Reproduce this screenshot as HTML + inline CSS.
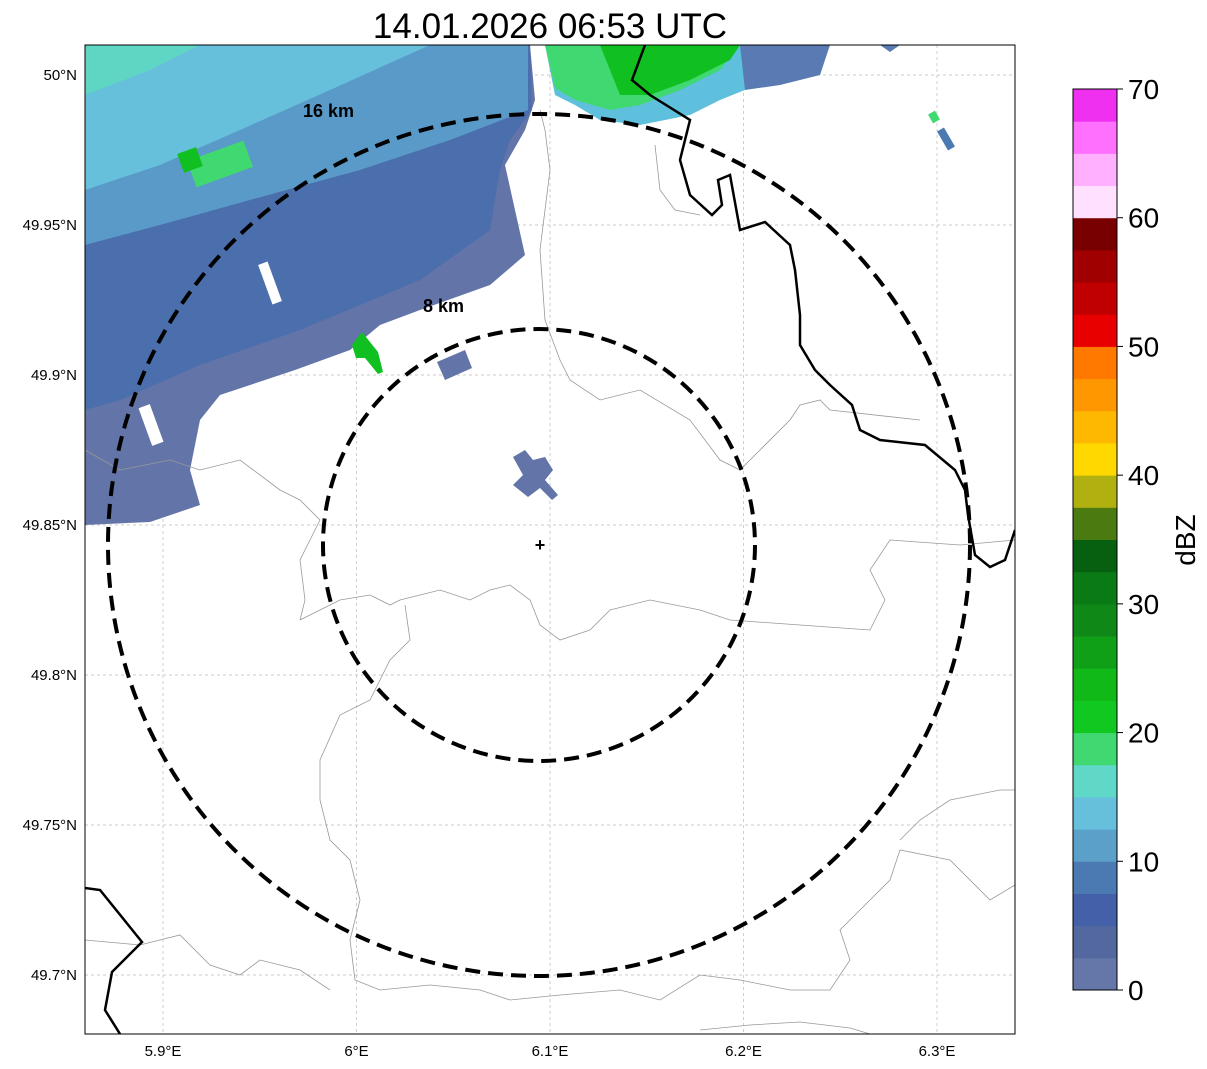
<!DOCTYPE html>
<html><head><meta charset="utf-8"><style>
html,body{margin:0;padding:0;background:#fff;}
svg{display:block;font-family:"Liberation Sans","DejaVu Sans",sans-serif;}
</style></head><body>
<svg width="1207" height="1069" viewBox="0 0 1207 1069">
<text x="550" y="38" font-size="35" text-anchor="middle">14.01.2026 06:53 UTC</text>
<defs><clipPath id="mapclip"><rect x="85" y="45" width="930" height="989"/></clipPath></defs>
<g clip-path="url(#mapclip)">
<rect x="85" y="45" width="930" height="989" fill="#fff"/>
<g id="grid"></g>
<g>
<polygon fill="#6375a8" points="85,45 530,45 535,100 525,130 505,165 525,255 490,285 420,310 380,325 350,350 295,370 220,395 200,420 190,470 200,505 150,522 85,525"/>
<polygon fill="#4b6eac" points="85,45 530,45 532,110 510,140 500,170 490,230 420,280 300,330 200,365 120,400 85,410"/>
<polygon fill="#5a9ac8" points="85,45 528,45 528,110 450,140 360,170 250,200 160,225 85,245"/>
<polygon fill="#66c0dc" points="85,45 430,45 330,90 240,130 160,165 85,190"/>
<polygon fill="#5fd6c4" points="85,45 200,45 150,70 85,95"/>
<rect x="190" y="150" width="60" height="28" fill="#40d870" transform="rotate(-20 220 164)"/>
<rect x="180" y="150" width="20" height="20" fill="#10c020" transform="rotate(-20 190 160)"/>
<polygon fill="#10c020" points="352,345 362,332 378,352 383,372 378,374 365,358 356,358"/>
<polygon fill="#6375a8" points="437,362 465,350 472,368 445,380"/>
<polygon fill="#6375a8" points="513,457 525,450 533,460 545,457 553,470 545,480 558,495 552,500 540,488 528,497 513,485 523,475"/>
<polygon fill="#5ec0dc" points="545,45 830,45 815,70 770,80 720,100 690,115 640,125 600,120 575,105 555,95"/>
<polygon fill="#40d870" points="545,45 740,45 720,70 680,90 640,105 610,110 575,100 555,88"/>
<polygon fill="#10c020" points="600,45 740,45 730,60 690,80 650,95 620,95"/>
<polygon fill="#5a7ab4" points="740,45 830,45 820,75 780,85 745,90"/>
<polygon fill="#5a7ab4" points="880,45 900,45 890,52"/>
<rect x="930" y="112" width="8" height="10" fill="#40d870" transform="rotate(-30 934 117)"/>
<rect x="942" y="128" width="8" height="22" fill="#4b7ab2" transform="rotate(-30 946 139)"/>
<rect x="265" y="262" width="10" height="42" fill="#fff" transform="rotate(-20 270 283)"/>
<rect x="200" y="480" width="10" height="40" fill="#fff" transform="rotate(-20 205 500)"/>
<rect x="145" y="405" width="12" height="40" fill="#fff" transform="rotate(-20 151 425)"/>
</g>
<g fill="none" stroke="#999" stroke-width="0.8">
<polyline points="540,110 545,130 550,170 540,250 545,320 560,360 570,380 600,400 640,390 690,420 720,460 740,470 760,450 790,420 800,405 820,400 830,410 920,420"/>
<polyline points="655,145 660,190 675,210 700,215"/>
<polyline points="85,450 120,470 170,460 200,470 240,460 280,490 300,500 320,520 300,560 305,600 300,620"/>
<polyline points="300,620 340,600 370,595 390,605 400,600 440,590 470,600 490,590 510,585 530,600 540,625 560,640 590,630 610,610 650,600 700,610 730,620 800,625 870,630 885,600 870,570 890,540 960,545 1015,540"/>
<polyline points="405,605 410,640 390,660 370,700 340,715 320,760 320,800 330,840 350,860 360,900 350,940 355,980 380,990 430,985 480,990 510,1000 560,995 620,990 660,1000 700,975 740,980 790,990 830,990 850,960 840,930 870,900 890,880 900,850 950,860 990,900 1015,885"/>
<polyline points="85,940 140,945 180,935 210,965 240,975 260,960 300,970 330,990"/>
<polyline points="700,1030 750,1025 800,1022 850,1028 870,1034"/>
<polyline points="900,840 920,820 950,800 1000,790 1015,790"/>
</g>
<g fill="none" stroke="#000" stroke-width="2.5">
<polyline points="645,45 632,80 650,95 690,120 680,160 690,195 712,215 722,205 718,180 730,175 740,230 765,222 790,245 795,270 800,315 800,345 815,370 830,385 852,405 860,430 880,440 925,445 955,470 965,490 968,515 975,555 990,567 1005,560 1015,530"/>
<polyline points="85,888 100,890 142,942 112,972 105,1010 120,1034"/>
</g>
<g fill="none" stroke="#000" stroke-width="4" stroke-dasharray="15,8">
<circle cx="539" cy="545" r="216"/>
<circle cx="539" cy="545" r="431"/>
</g>
<text x="540" y="551" font-size="18" font-weight="bold" text-anchor="middle">+</text>
<text x="303" y="117" font-size="18" font-weight="bold">16 km</text>
<text x="423" y="312" font-size="18" font-weight="bold">8 km</text>
</g>
<rect x="85" y="45" width="930" height="989" fill="none" stroke="#000" stroke-width="1"/>
<g id="axes" font-size="15"></g>
<g id="cbar"></g>
<text x="1195" y="540" font-size="28" text-anchor="middle" transform="rotate(-90 1195 540)">dBZ</text>
</svg>
<script>
const lonTicks=[5.9,6.0,6.1,6.2,6.3];
const lonLabels=["5.9°E","6°E","6.1°E","6.2°E","6.3°E"];
const latTicks=[50.0,49.95,49.9,49.85,49.8,49.75,49.7];
const latLabels=["50°N","49.95°N","49.9°N","49.85°N","49.8°N","49.75°N","49.7°N"];
const cbColors=["#6577a8","#5468a0","#4460a8","#4b7ab2","#5aa0c8","#66c0dc","#60d8c8","#40d870","#10c820","#10b818","#10a018","#108818","#0a7a14","#066010","#4a7a10","#b0b010","#ffd800","#ffb800","#ff9800","#ff7800","#e80000","#c00000","#a00000","#780000","#ffe0ff","#ffb0ff","#ff70ff","#f030f0"];
const cbTicks=[0,10,20,30,40,50,60,70];
const NS="http://www.w3.org/2000/svg";
const xOf=lon=>163+(lon-5.9)*1935;
const yOf=lat=>75+(50-lat)*3000;
const grid=document.getElementById('grid'),axes=document.getElementById('axes'),cb=document.getElementById('cbar');
function mk(tag,attrs,parent){const e=document.createElementNS(NS,tag);for(const k in attrs)e.setAttribute(k,attrs[k]);parent.appendChild(e);return e;}
lonTicks.forEach((v,i)=>{const x=xOf(v);
 const l=mk('line',{x1:x,x2:x,y1:45,y2:1034,stroke:'#bbb','stroke-width':0.7,'stroke-dasharray':'3,3'},grid);
 
 
 const t=mk('text',{x:x,y:1056,'text-anchor':'middle'},axes);t.textContent=lonLabels[i];
 
 });
latTicks.forEach((v,i)=>{const y=yOf(v);
 const l=mk('line',{x1:85,x2:1015,y1:y,y2:y,stroke:'#bbb','stroke-width':0.7,'stroke-dasharray':'3,3'},grid);
 
 
 const t=mk('text',{x:77,y:y+5,'text-anchor':'end'},axes);t.textContent=latLabels[i];
 
 });
const cbTop=89,cbBot=990,cbX=1073,cbW=44,vmax=70;
const cy=v=>cbBot-(v/vmax)*(cbBot-cbTop);
cbColors.forEach((c,i)=>{const v0=i*2.5,v1=v0+2.5;
 const r=mk('rect',{x:cbX,y:cy(v1),width:cbW,height:cy(v0)-cy(v1)+0.5,fill:c},cb);
 
 });
const fr=mk('rect',{x:cbX,y:cbTop,width:cbW,height:cbBot-cbTop,fill:'none',stroke:'#000','stroke-width':1},cb);


cbTicks.forEach(v=>{const y=cy(v);
 mk('line',{x1:cbX+cbW,x2:cbX+cbW+6,y1:y,y2:y,stroke:'#000'},cb);
 const t=mk('text',{x:cbX+cbW+11,y:y+10,'font-size':28},cb);t.textContent=v;
 
 });
</script>
</body></html>
